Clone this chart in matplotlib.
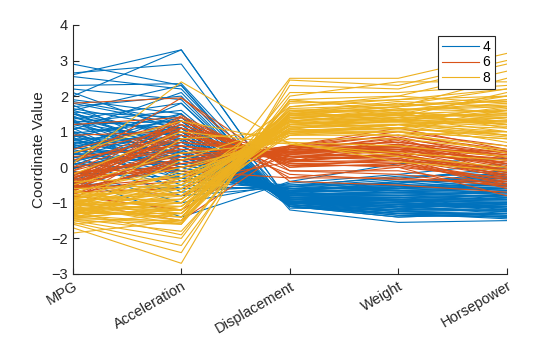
import numpy as np
import matplotlib.pyplot as plt

plt.rcParams['font.family'] = ['Liberation Sans', 'DejaVu Sans']

var_names = ["MPG", "Acceleration", "Displacement", "Weight", "Horsepower"]
groups = ["4", "6", "8"]
colors = ["#0072BD", "#D95319", "#EDB120"]

# standardized values: [MPG, Acc, Disp, Weight, HP]
cyl4 = [
    [2.9, 2.3, -1.1, -1.3, -1.4], [2.6, 3.3, -1.0, -1.1, -1.3],
    [2.65, 2.9, -1.15, -1.2, -1.2], [2.55, 2.2, -1.0, -1.25, -1.35],
    [2.3, 2.35, -0.9, -1.0, -1.1], [2.2, 1.9, -1.05, -1.35, -1.4],
    [2.0, 3.3, -1.0, -0.9, -1.2], [1.9, 1.5, -1.1, -1.4, -1.3],
    [1.8, 1.2, -0.95, -1.1, -1.0], [1.7, 2.0, -1.1, -1.3, -1.45],
    [1.6, 0.8, -0.85, -0.9, -0.9], [1.55, 1.4, -1.0, -1.2, -1.1],
    [1.5, 0.5, -0.9, -1.0, -0.8], [1.4, 1.0, -1.05, -1.25, -1.2],
    [1.3, 0.2, -0.75, -0.7, -0.6], [1.25, 1.6, -0.95, -1.05, -1.15],
    [1.2, 0.6, -0.8, -0.8, -0.7], [1.1, 0.9, -1.1, -1.4, -1.3],
    [1.0, -0.2, -0.7, -0.6, -0.4], [0.95, 1.3, -0.85, -0.95, -1.0],
    [0.9, 0.4, -0.9, -0.85, -0.9], [0.8, 0.0, -0.6, -0.5, -0.3],
    [0.75, 1.1, -1.0, -1.15, -1.25], [0.7, 0.7, -0.75, -0.75, -0.8],
    [0.6, -0.5, -0.65, -0.45, -0.2], [0.55, 0.3, -0.85, -0.9, -0.95],
    [0.5, 1.8, -1.0, -1.2, -1.4], [0.4, -0.3, -0.5, -0.3, -0.1],
    [0.35, 0.6, -0.9, -1.0, -1.05], [0.3, 0.1, -0.7, -0.6, -0.5],
    [0.2, -0.8, -0.55, -0.35, 0.0], [0.15, 0.9, -0.8, -0.7, -0.85],
    [0.1, -0.1, -0.6, -0.55, -0.6], [0.0, 0.5, -0.85, -0.8, -0.9],
    [-0.1, -1.0, -0.45, -0.2, 0.1], [-0.2, 0.2, -0.65, -0.5, -0.5],
    [-0.3, -1.4, -0.4, 0.1, 0.25], [-0.45, -0.6, -0.55, -0.25, -0.2],
    [-0.6, 0.0, -0.7, -0.4, -0.4], [1.6, 2.3, -1.2, -1.55, -1.5],
    [1.85, 1.3, -0.8, -0.65, -0.7], [1.35, -0.4, -0.6, -0.6, -0.3],
    [1.05, 2.1, -1.05, -1.3, -1.3], [0.65, 1.4, -0.9, -0.95, -1.1],
    [1.45, 0.1, -0.75, -0.8, -0.65], [0.85, -0.7, -0.5, -0.45, -0.15],
    [1.75, 0.4, -0.9, -1.1, -0.85], [0.25, 1.2, -0.95, -1.05, -1.2],
    [2.1, 1.0, -1.0, -1.15, -1.0], [-0.05, 0.8, -0.8, -0.7, -0.75],
    [1.5, 0.9, -1.0, -1.1, -1.1], [1.3, 1.1, -0.95, -1.0, -1.15],
    [1.15, 0.3, -0.8, -0.9, -0.75], [1.0, 0.6, -0.9, -1.05, -1.0],
    [0.9, -0.1, -0.65, -0.65, -0.55], [0.8, 0.8, -0.95, -1.1, -1.1],
    [0.7, 0.2, -0.8, -0.75, -0.7], [0.6, 1.0, -0.9, -0.9, -1.0],
    [0.5, -0.2, -0.7, -0.6, -0.45], [0.45, 0.4, -0.75, -0.8, -0.8],
    [0.35, 1.5, -1.05, -1.25, -1.3], [0.3, -0.6, -0.55, -0.45, -0.25],
    [0.2, 0.7, -0.85, -0.85, -0.9], [0.1, 0.3, -0.7, -0.65, -0.6],
    [1.2, 1.3, -1.1, -1.3, -1.35], [1.4, 0.6, -0.85, -0.95, -0.85],
    [1.65, 1.1, -1.05, -1.2, -1.2], [1.1, -0.3, -0.6, -0.55, -0.35],
    [0.95, 0.0, -0.75, -0.7, -0.6], [0.55, 1.0, -1.0, -1.0, -1.15],
    [0.75, 0.45, -0.85, -0.95, -0.95], [1.25, 0.75, -0.95, -1.15, -1.05],
    [0.4, 0.1, -0.65, -0.55, -0.5], [1.55, 0.3, -0.8, -0.85, -0.8],
    [0.05, 1.1, -0.9, -0.95, -1.0], [-0.15, -0.3, -0.6, -0.4, -0.3],
    [0.65, -0.1, -0.7, -0.6, -0.55], [1.35, 1.8, -1.1, -1.35, -1.4],
    [0.85, 1.5, -1.0, -1.1, -1.25], [-0.35, 0.4, -0.75, -0.55, -0.65],
]

cyl6 = [
    [1.8, 1.95, -0.4, -0.5, -0.7], [1.2, 1.4, -0.3, -0.3, -0.5],
    [0.9, 1.0, -0.2, -0.35, -0.4], [0.5, 1.3, 0.1, 0.0, -0.3],
    [0.2, 0.9, 0.3, 0.2, -0.1], [0.0, 0.5, 0.5, 0.4, 0.1],
    [-0.1, 1.2, 0.2, 0.3, -0.2], [-0.2, 0.3, 0.55, 0.6, 0.3],
    [-0.3, 0.7, 0.4, 0.5, 0.0], [-0.35, 1.45, 0.0, 0.1, -0.45],
    [-0.4, 0.1, 0.6, 0.7, 0.4], [-0.45, 0.6, 0.3, 0.35, -0.05],
    [-0.5, 1.0, 0.15, 0.4, -0.25], [-0.55, -0.3, 0.6, 0.9, 0.5],
    [-0.6, 0.4, 0.45, 0.55, 0.2], [-0.65, 1.3, 0.05, 0.2, -0.6],
    [-0.7, -0.6, 0.6, 1.0, 0.6], [-0.75, 0.2, 0.35, 0.75, 0.1],
    [-0.8, -1.2, 0.6, 1.1, 0.5], [-0.9, 0.8, 0.25, 0.65, -0.15],
    [-1.0, -1.5, 0.55, 0.9, 0.45], [-0.25, -0.1, -0.3, 0.0, -0.8],
    [0.1, 1.95, -0.1, -0.2, -0.55], [-0.15, 0.0, 0.5, 0.45, 0.25],
    [-0.5, -0.8, 0.35, 0.6, 0.35], [0.3, 0.6, 0.2, 0.1, -0.35],
    [-0.45, 1.1, 0.4, 0.3, -0.1], [-0.6, -0.4, 0.15, 0.8, 0.0],
    [-0.2, 0.8, 0.3, 0.25, -0.2], [-0.3, 0.4, 0.45, 0.4, 0.15],
    [-0.4, 1.2, 0.1, 0.15, -0.35], [-0.5, 0.2, 0.5, 0.55, 0.3],
    [-0.55, 0.9, 0.3, 0.45, -0.1], [-0.6, 0.0, 0.55, 0.7, 0.35],
    [-0.65, 0.6, 0.25, 0.5, 0.05], [-0.7, 1.1, 0.2, 0.35, -0.3],
    [-0.75, -0.2, 0.5, 0.8, 0.4], [-0.1, 0.7, 0.35, 0.3, -0.05],
    [0.0, 1.3, 0.05, 0.05, -0.4], [-0.35, 0.0, 0.5, 0.5, 0.2],
    [-0.45, 0.5, 0.4, 0.6, 0.1], [-0.25, 1.0, 0.15, 0.2, -0.25],
    [-0.85, 0.3, 0.45, 0.85, 0.25], [-0.15, 0.2, 0.6, 0.5, 0.45],
    [0.4, 1.1, -0.1, -0.1, -0.5], [-0.55, 1.4, 0.0, 0.25, -0.5],
    [-0.65, 0.1, 0.4, 0.65, 0.3], [-0.3, 0.9, 0.2, 0.35, -0.15],
]

cyl8 = [
    [-1.85, -1.5, 2.5, 2.5, 3.2], [-1.7, -2.7, 2.45, 2.3, 3.0],
    [-1.6, -2.4, 2.3, 2.2, 2.9], [-1.55, -2.2, 1.9, 2.0, 2.7],
    [-1.5, -2.0, 2.0, 2.4, 2.4], [-1.45, -1.8, 1.5, 1.7, 2.5],
    [-1.4, -1.6, 1.8, 1.9, 2.2], [-1.35, -1.55, 1.4, 1.5, 2.0],
    [-1.3, -1.2, 1.6, 1.6, 1.9], [-1.25, -1.0, 1.2, 1.3, 1.7],
    [-1.2, -1.4, 1.5, 1.8, 1.5], [-1.15, -0.9, 1.1, 1.2, 1.4],
    [-1.1, -0.7, 1.3, 1.5, 1.2], [-1.05, -1.3, 1.0, 1.1, 1.6],
    [-1.0, -0.6, 1.2, 1.4, 1.0], [-0.95, -1.1, 0.9, 1.2, 1.3],
    [-0.9, -0.4, 1.0, 1.0, 0.8], [-0.85, -0.8, 1.35, 1.6, 1.1],
    [-0.8, -0.2, 0.9, 0.9, 0.6], [-0.75, -1.0, 1.1, 1.3, 0.9],
    [-0.7, 0.0, 0.8, 0.8, 0.5], [-0.6, -0.5, 1.0, 1.2, 0.7],
    [-0.5, 0.4, 0.7, 0.6, 0.3], [-0.4, -0.3, 0.9, 1.0, 0.4],
    [-0.2, 1.0, 0.65, 0.4, 0.2], [0.1, 2.4, 0.65, 0.3, 0.0],
    [0.4, 1.3, 0.7, 0.15, -0.1], [-1.3, -0.5, 1.7, 2.0, 1.8],
    [-1.2, 0.2, 1.25, 1.4, 1.3], [-1.1, -1.6, 2.1, 2.1, 2.3],
    [-1.0, -1.5, 1.45, 1.7, 2.0], [-0.9, -0.9, 1.6, 1.3, 1.6],
    [-1.45, -1.1, 1.05, 1.5, 1.2], [-1.35, -0.3, 1.3, 1.1, 1.4],
    [-1.25, -1.9, 1.9, 1.6, 1.8], [-1.05, -0.1, 0.95, 1.2, 0.9],
    [-0.95, -1.4, 1.55, 1.85, 1.7], [-1.15, 0.8, 1.0, 0.9, 1.0],
    [-0.65, -1.2, 1.4, 1.5, 1.2], [-1.6, -1.3, 1.2, 1.4, 2.1],
    [-1.4, -1.2, 1.5, 1.6, 1.7], [-1.3, -1.0, 1.3, 1.4, 1.5],
    [-1.25, -1.4, 1.6, 1.7, 1.9], [-1.2, -0.8, 1.2, 1.3, 1.3],
    [-1.15, -1.2, 1.45, 1.5, 1.6], [-1.1, -0.5, 1.1, 1.2, 1.1],
    [-1.05, -1.0, 1.3, 1.55, 1.4], [-1.0, -0.3, 1.0, 1.1, 0.9],
    [-0.95, -0.7, 1.2, 1.35, 1.2], [-0.9, -1.3, 1.5, 1.45, 1.5],
    [-0.85, -0.5, 1.05, 1.05, 1.0], [-1.45, -1.5, 1.7, 1.9, 2.0],
    [-1.35, -0.7, 1.4, 1.3, 1.4], [-1.5, -1.6, 1.85, 1.75, 2.2],
    [-1.2, -1.1, 1.35, 1.65, 1.55], [-1.1, -0.9, 1.25, 1.25, 1.25],
    [-0.8, -0.6, 1.15, 1.2, 1.0], [-1.0, -1.2, 1.5, 1.35, 1.65],
    [-1.3, -1.3, 1.65, 1.75, 1.85], [-0.9, -0.2, 0.95, 1.0, 0.8],
    [-1.4, -0.9, 1.3, 1.45, 1.45], [-1.15, -1.5, 1.55, 1.6, 1.75],
    [-0.7, -0.8, 1.05, 1.1, 0.85], [-1.05, -0.4, 1.15, 1.3, 1.15],
    [-1.25, -0.6, 1.4, 1.55, 1.35],
]


def main():
    fig = plt.figure(figsize=(5.6, 3.37), dpi=100)
    ax = fig.add_axes([0.130, 0.187, 0.775, 0.739])
    xs = np.arange(1, len(var_names) + 1)

    for name, col, data in zip(groups, colors, [cyl4, cyl6, cyl8]):
        arr = np.array(data)
        lines = ax.plot(xs, arr.T, color=col, lw=0.8)
        lines[0].set_label(name)

    ax.set_xlim(1, 5)
    ax.set_ylim(-3, 4)
    ax.set_yticks(range(-3, 5))
    ax.set_xticks(xs)
    ax.set_xticklabels(var_names, rotation=30, ha="right", rotation_mode="anchor")
    ax.set_ylabel("Coordinate Value", fontsize=11, color="#262626")
    ax.tick_params(direction="in", labelsize=10.5, colors="#262626", length=4)
    ax.spines["top"].set_visible(False)
    ax.spines["right"].set_visible(False)
    for s in ["left", "bottom"]:
        ax.spines[s].set_color("#262626")

    leg = ax.legend(loc="upper right", bbox_to_anchor=(0.972, 0.956), fontsize=10,
                    handlelength=2.6, labelspacing=0.1, handletextpad=0.3,
                    borderpad=0.3, borderaxespad=0, fancybox=False, framealpha=1)
    leg.get_frame().set_edgecolor("#262626")
    leg.get_frame().set_linewidth(0.8)

    fig.savefig("out.png", dpi=100)


if __name__ == "__main__":
    main()
